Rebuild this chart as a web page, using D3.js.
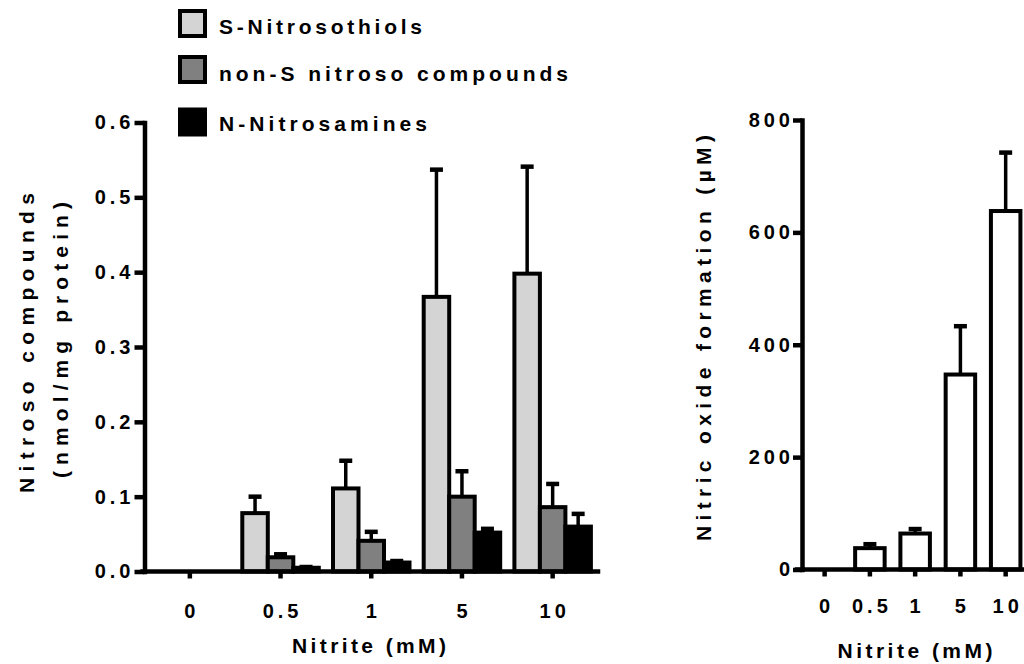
<!DOCTYPE html>
<html>
<head>
<meta charset="utf-8">
<script src="https://cdn.jsdelivr.net/npm/d3@7"></script>
<style>
  html, body { margin: 0; padding: 0; background: #fff; }
  svg { display: block; }
  text { font-family: "Liberation Sans", Arial, sans-serif; font-weight: bold; fill: #000; }
</style>
</head>
<body>
<script>
// ---------- data ----------
const categories = ["0", "0.5", "1", "5", "10"];
const seriesNames = ["S-Nitrosothiols", "non-S nitroso compounds", "N-Nitrosamines"];
const seriesFills = ["#d4d4d4", "#808080", "#000000"];
const sNitrosothiols = [0, 0.078, 0.111, 0.367, 0.398];
const sNitrosothiolsSem = [0, 0.022, 0.037, 0.170, 0.143];
const nonSNitroso = [0, 0.019, 0.041, 0.100, 0.086];
const nonSNitrosoSem = [0, 0.004, 0.012, 0.034, 0.031];
const nNitrosamines = [0, 0.005, 0.012, 0.052, 0.060];
const nNitrosaminesSem = [0, 0.001, 0.002, 0.005, 0.017];
const leftYTicks = [0, 0.1, 0.2, 0.3, 0.4, 0.5, 0.6];

const nitricOxide = [0, 38, 64, 347, 638];
const nitricOxideSem = [0, 7, 8, 86, 104];
const rightYTicks = [0, 200, 400, 600, 800];

const leftYTitle = ["Nitroso compounds", "(nmol/mg protein)"];
const rightYTitle = "Nitric oxide formation (\u00B5M)";
const xTitle = "Nitrite (mM)";

// ---------- setup ----------
const svg = d3.select("body").append("svg").attr("width", 1024).attr("height", 664);
const FS = 20;      // tick labels
const TFS = 21;     // titles / legend
const LS = 4;
const axisW = 4.5;
const barSW = 4;

function styleAxis(g) {
  g.selectAll(".domain").attr("stroke", "#000").attr("stroke-width", axisW).attr("stroke-linecap", "square");
  g.selectAll(".tick line").attr("stroke", "#000").attr("stroke-width", axisW);
  g.selectAll(".tick text").attr("font-size", FS).attr("fill", "#000")
    .style("font-family", '"Liberation Sans", Arial, sans-serif').style("font-weight", "bold")
    .style("letter-spacing", LS + "px");
}

// ---------- left chart ----------
const xL = d3.scaleBand().domain(categories).range([144.5, 598]).padding(0);
const yL = d3.scaleLinear().domain([0, 0.6]).range([571.5, 122.5]);
const subL = d3.scaleBand().domain(seriesNames).range([-38.25, 38.25]).padding(0);

const leftData = seriesNames.map((name, si) => {
  const vals = [sNitrosothiols, nonSNitroso, nNitrosamines][si];
  const sems = [sNitrosothiolsSem, nonSNitrosoSem, nNitrosaminesSem][si];
  return categories.map((c, ci) => ({ series: name, si, cat: c, v: vals[ci], e: sems[ci] }));
}).flat();

const gL = svg.append("g");
const cxL = d => xL(d.cat) + xL.bandwidth() / 2 + subL(d.series) + subL.bandwidth() / 2;

const errL = gL.append("g").selectAll("g").data(leftData.filter(d => d.v > 0)).join("g");
errL.append("line")
  .attr("x1", cxL).attr("x2", cxL)
  .attr("y1", d => yL(d.v)).attr("y2", d => yL(d.v + d.e))
  .attr("stroke", "#000").attr("stroke-width", 3.5);
errL.append("line")
  .attr("x1", d => cxL(d) - 6.5).attr("x2", d => cxL(d) + 6.5)
  .attr("y1", d => yL(d.v + d.e)).attr("y2", d => yL(d.v + d.e))
  .attr("stroke", "#000").attr("stroke-width", 4.5);

gL.append("g").selectAll("rect").data(leftData.filter(d => d.v > 0)).join("rect")
  .attr("x", d => xL(d.cat) + xL.bandwidth() / 2 + subL(d.series))
  .attr("width", subL.bandwidth())
  .attr("y", d => yL(d.v))
  .attr("height", d => yL(0) - yL(d.v))
  .attr("fill", d => seriesFills[d.si])
  .attr("stroke", "#000").attr("stroke-width", barSW);

const axL = gL.append("g").attr("transform", "translate(144.5,0)")
  .call(d3.axisLeft(yL).tickValues(leftYTicks).tickFormat(d3.format(".1f")).tickSize(10).tickSizeOuter(0).tickPadding(4));
styleAxis(axL);
axL.selectAll(".tick text").attr("dx", LS);

const axLx = gL.append("g").attr("transform", "translate(0,571.5)")
  .call(d3.axisBottom(xL).tickSize(7).tickSizeOuter(0).tickPadding(25));
styleAxis(axLx);
axLx.select(".domain").attr("d", "M142.5,0H598");
axLx.selectAll(".tick text").attr("dx", LS / 2);

// titles
gL.append("text").attr("transform", "translate(34,343) rotate(-90)")
  .attr("text-anchor", "middle").attr("font-size", TFS).attr("textLength", 300).attr("lengthAdjust", "spacing")
  .text(leftYTitle[0]);
gL.append("text").attr("transform", "translate(68,340) rotate(-90)")
  .attr("text-anchor", "middle").attr("font-size", TFS).attr("textLength", 276).attr("lengthAdjust", "spacing")
  .text(leftYTitle[1]);
gL.append("text").attr("x", 369).attr("y", 653)
  .attr("text-anchor", "middle").attr("font-size", TFS).attr("textLength", 154).attr("lengthAdjust", "spacing")
  .text(xTitle);

// legend
const legY = [11, 57, 109.5];
const legBase = [33.5, 80.5, 131];
const leg = gL.append("g").selectAll("g").data(seriesNames).join("g");
leg.append("rect")
  .attr("x", 180).attr("y", (d, i) => legY[i]).attr("width", 25).attr("height", 25)
  .attr("fill", (d, i) => seriesFills[i]).attr("stroke", "#000").attr("stroke-width", barSW);
const legLen = [203, 349, 208];
leg.append("text").attr("x", 219).attr("y", (d, i) => legBase[i])
  .attr("font-size", TFS).attr("textLength", (d, i) => legLen[i]).attr("lengthAdjust", "spacing")
  .text(d => d);

// ---------- right chart ----------
const xR = d3.scaleBand().domain(categories).range([802, 1028.3]).padding(0);
const yR = d3.scaleLinear().domain([0, 800]).range([569.5, 120]);
const barWR = 29.5;
const rightData = categories.map((c, i) => ({ cat: c, v: nitricOxide[i], e: nitricOxideSem[i] }));
const gR = svg.append("g");
const cxR = d => xR(d.cat) + xR.bandwidth() / 2;

const errR = gR.append("g").selectAll("g").data(rightData.filter(d => d.v > 0)).join("g");
errR.append("line")
  .attr("x1", cxR).attr("x2", cxR)
  .attr("y1", d => yR(d.v)).attr("y2", d => yR(d.v + d.e))
  .attr("stroke", "#000").attr("stroke-width", 3.5);
errR.append("line")
  .attr("x1", d => cxR(d) - 6.5).attr("x2", d => cxR(d) + 6.5)
  .attr("y1", d => yR(d.v + d.e)).attr("y2", d => yR(d.v + d.e))
  .attr("stroke", "#000").attr("stroke-width", 4.5);

gR.append("g").selectAll("rect").data(rightData.filter(d => d.v > 0)).join("rect")
  .attr("x", d => cxR(d) - barWR / 2)
  .attr("width", barWR)
  .attr("y", d => yR(d.v)).attr("height", d => yR(0) - yR(d.v))
  .attr("fill", "#fff").attr("stroke", "#000").attr("stroke-width", barSW);

const axR = gR.append("g").attr("transform", "translate(802,0)")
  .call(d3.axisLeft(yR).tickValues(rightYTicks).tickFormat(d3.format("d")).tickSize(9).tickSizeOuter(0).tickPadding(3));
styleAxis(axR);
axR.selectAll(".tick text").attr("dx", LS);

const axRx = gR.append("g").attr("transform", "translate(0,569.5)")
  .call(d3.axisBottom(xR).tickSize(7).tickSizeOuter(0).tickPadding(22));
styleAxis(axRx);
axRx.select(".domain").attr("d", "M797,0H1028");
axRx.selectAll(".tick text").attr("dx", LS / 2);

gR.append("text").attr("transform", "translate(711,338) rotate(-90)")
  .attr("text-anchor", "middle").attr("font-size", TFS).attr("textLength", 406).attr("lengthAdjust", "spacing")
  .text(rightYTitle);
gR.append("text").attr("x", 915).attr("y", 658)
  .attr("text-anchor", "middle").attr("font-size", TFS).attr("textLength", 155).attr("lengthAdjust", "spacing")
  .text(xTitle);
</script>
</body>
</html>
